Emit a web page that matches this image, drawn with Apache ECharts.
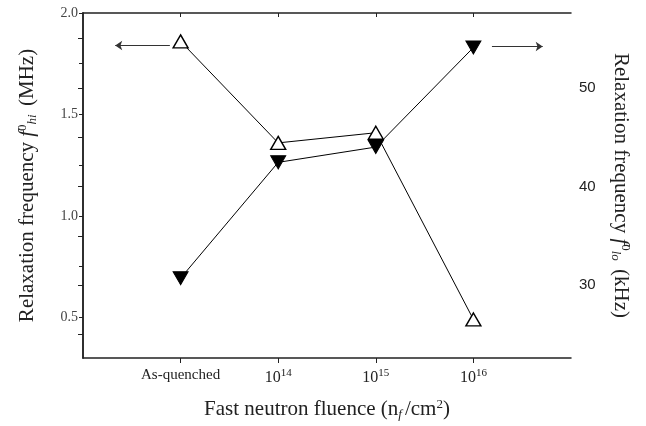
<!DOCTYPE html>
<html>
<head>
<meta charset="utf-8">
<title>Relaxation frequency vs fast neutron fluence</title>
<script src="https://cdn.jsdelivr.net/npm/echarts@6/dist/echarts.min.js"></script>
<style>
html, body { margin: 0; padding: 0; background: #fff; }
#chart { width: 646px; height: 426px; }
</style>
</head>
<body>
<div id="chart"></div>
<script>
// x categories, drawn at positions 1..4 of a value axis (0..5)
var categories = ['As-quenched', '10^14', '10^15', '10^16'];
var catPos = [1, 2, 3, 4];
// f0_hi (MHz), left axis, open triangles
var hiValues = [1.86, 1.36, 1.41, 0.49];
// f0_lo (kHz), right axis, filled down triangles
var loValues = [30.7, 42.45, 44.0, 54.1];
// ticks
var leftLabels = [0.5, 1.0, 1.5, 2.0];
var leftTicks = [0.5, 0.75, 1.0, 1.25, 1.5, 1.75, 2.0];
var rightLabels = [30, 40, 50];
var rightTicks = [25, 30, 35, 40, 45, 50, 55];
// "which axis" arrows: [x from, x to, y]
var leftArrow = [0.89, 0.33, 1.84];
var rightArrow = [4.19, 4.71, 54.2];

var SERIF = 'Liberation Serif';
var SANS = 'Liberation Sans';
var INK = '#222';

var hiData = catPos.map(function (x, i) { return [x, hiValues[i]]; });
var loData = catPos.map(function (x, i) { return [x, loValues[i]]; });

function catLabel(v) {
    var c = categories[catPos.indexOf(v)];
    if (!c) return '';
    var p = c.split('^');
    return p.length > 1 ? '{b|' + p[0] + '}{sup|' + p[1] + '}' : '{a|' + c + '}';
}

var titleRich = {
    t: { fontFamily: SERIF, fontSize: 21, color: INK },
    f: { fontFamily: SERIF, fontSize: 21, fontStyle: 'italic', color: INK },
    sup: { fontFamily: SERIF, fontSize: 13, color: INK, verticalAlign: 'top', padding: [0, 0, 10, 0] },
    sub: { fontFamily: SERIF, fontSize: 13, fontStyle: 'italic', color: INK, verticalAlign: 'bottom', padding: [8, 3, 0, 0] }
};

var chart = echarts.init(document.getElementById('chart'));
chart.setOption({
    animation: false,
    backgroundColor: '#fff',
    grid: { left: 83, right: 75, top: 13, bottom: 67 },
    xAxis: [{
        type: 'value', min: 0, max: 5, position: 'bottom',
        axisLine: { show: true, lineStyle: { color: INK, width: 1.5 } },
        axisTick: { show: true, customValues: catPos, length: 5, lineStyle: { color: INK } },
        axisLabel: {
            customValues: catPos, margin: 10, formatter: catLabel,
            rich: {
                a: { fontFamily: SERIF, fontSize: 15, color: INK, padding: [0, 0, 4, 0] },
                b: { fontFamily: SERIF, fontSize: 16, color: INK },
                sup: { fontFamily: SERIF, fontSize: 11, color: INK, verticalAlign: 'top', padding: [0, 0, 8, 0] }
            }
        },
        splitLine: { show: false },
        name: '{t|Fast neutron fluence (n}{sub|f}{t|/cm}{sup|2}{t|)}',
        nameLocation: 'middle', nameGap: 40,
        nameTextStyle: { rich: titleRich }
    }, {
        type: 'value', min: 0, max: 5, position: 'top',
        axisLine: { show: true, lineStyle: { color: INK, width: 1.5 } },
        axisTick: { show: true, inside: true, customValues: catPos, length: 4, lineStyle: { color: INK } },
        axisLabel: { show: false },
        splitLine: { show: false }
    }],
    yAxis: [{
        type: 'value', min: 0.3, max: 2.0, position: 'left',
        axisLine: { show: true, lineStyle: { color: INK, width: 1.5 } },
        axisTick: { show: true, customValues: leftTicks, length: 4, lineStyle: { color: INK } },
        axisLabel: {
            customValues: leftLabels, margin: 5,
            fontFamily: SERIF, fontSize: 14, color: '#444',
            formatter: function (v) { return v.toFixed(1); }
        },
        splitLine: { show: false },
        name: '{t|Relaxation frequency }{f|f}{sup|0}{sub|hi}{t| (MHz)}',
        nameLocation: 'middle', nameRotate: 90, nameGap: 44,
        nameTextStyle: { rich: titleRich }
    }, {
        type: 'value', min: 22.6, max: 57.6, position: 'right',
        axisLine: { show: true, lineStyle: { color: INK, width: 1.5 } },
        axisTick: { show: true, inside: true, customValues: rightTicks, length: 5, lineStyle: { color: INK } },
        axisLabel: {
            customValues: rightLabels, margin: 8,
            fontFamily: SANS, fontSize: 15, color: INK
        },
        splitLine: { show: false },
        name: '{t|Relaxation frequency }{f|f}{sup|0}{sub|lo}{t| (kHz)}',
        nameLocation: 'middle', nameRotate: -90, nameGap: 38,
        nameTextStyle: { rich: titleRich }
    }],
    series: [{
        name: 'f0_hi', type: 'line', xAxisIndex: 0, yAxisIndex: 0,
        data: hiData,
        symbol: 'triangle', symbolSize: [15, 13],
        itemStyle: { color: '#fff', borderColor: '#000', borderWidth: 1.4 },
        lineStyle: { color: '#000', width: 1 },
        markLine: {
            silent: true, symbol: ['none', 'arrow'], symbolSize: 7,
            lineStyle: { color: '#333', type: 'solid', width: 1 },
            label: { show: false },
            data: [[{ coord: [leftArrow[0], leftArrow[2]] }, { coord: [leftArrow[1], leftArrow[2]] }]]
        }
    }, {
        name: 'f0_lo', type: 'line', xAxisIndex: 0, yAxisIndex: 1,
        data: loData,
        symbol: 'triangle', symbolRotate: 180, symbolSize: [15, 13],
        itemStyle: { color: '#000', borderColor: '#000' },
        lineStyle: { color: '#000', width: 1 },
        markLine: {
            silent: true, symbol: ['none', 'arrow'], symbolSize: 7,
            lineStyle: { color: '#333', type: 'solid', width: 1 },
            label: { show: false },
            data: [[{ coord: [rightArrow[0], rightArrow[2]] }, { coord: [rightArrow[1], rightArrow[2]] }]]
        }
    }]
});
</script>
</body>
</html>
